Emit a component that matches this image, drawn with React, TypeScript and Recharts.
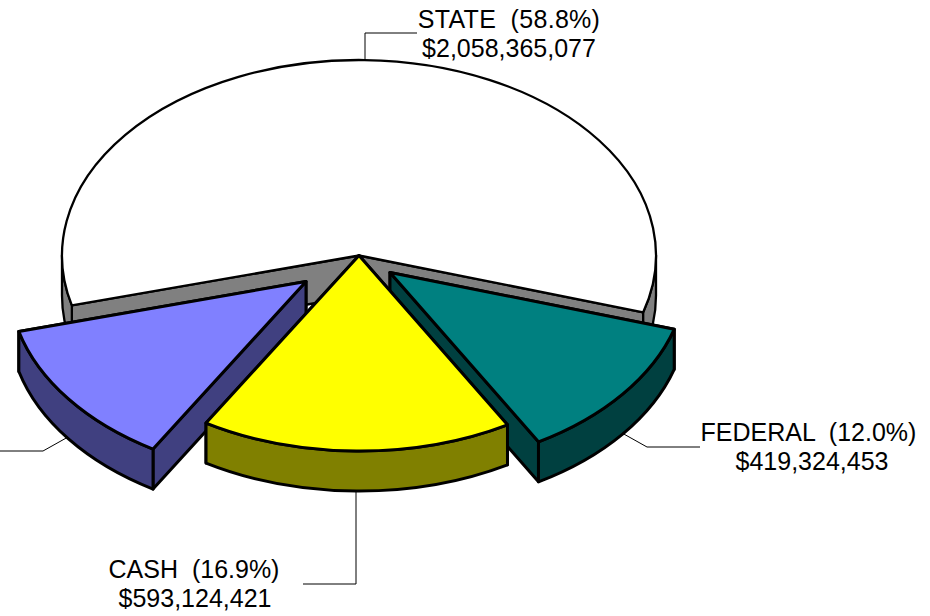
import { PieChart, Pie } from "recharts"

// funding sources (last label is cut off by the page edge)
const names = ["STATE", "FEDERAL", "CASH", "OTHER"]
const amounts = [2058365077, 419324453, 593124421, 429786049]
const shares = ["58.8%", "12.0%", "16.9%", "12.3%"]
const amountLabels = ["$2,058,365,077", "$419,324,453", "$593,124,421", "$429,786,049"]

const data = names.map((name, i) => ({
  name,
  value: amounts[i],
  share: shares[i],
  amountLabel: amountLabels[i],
}))

const CX = 359
const CY = 255.5
const RX = 297
const RY = 195.5
const DEPTH = 40

const topColors: Record<string, string> = { STATE: "#ffffff", FEDERAL: "#008080", CASH: "#ffff00", OTHER: "#8080ff" }
const sideColors: Record<string, string> = { STATE: "#808080", FEDERAL: "#004040", CASH: "#808000", OTHER: "#404080" }
const explode: Record<string, [number, number]> = { FEDERAL: [31, 17], OTHER: [-53, 26] }

// leader line and text placement per label, the OTHER text is off the page so it has none
const labelLayout: Record<string, { line: string; x?: number; y?: number; x2?: number; spacing?: number }> = {
  STATE: { line: "365,60 365,33 417,33", x: 509, y: 28, x2: 509, spacing: 0.3 },
  FEDERAL: { line: "622,433 647,447 700,447", x: 808.5, y: 441, x2: 812 },
  CASH: { line: "356,491 356,584 303,584", x: 194, y: 578, x2: 195 },
  OTHER: { line: "68,437 43,451 -10,451" },
}

const rad = (a: number) => (a * Math.PI) / 180

// tilted pie: recharts gives the angles, we squash them onto an ellipse
const pt = (ox: number, oy: number, a: number) => [ox + RX * Math.cos(rad(a)), oy - RY * Math.sin(rad(a))]

const arcTo = (ox: number, oy: number, from: number, to: number) => {
  const [x, y] = pt(ox, oy, to)
  const large = Math.abs(from - to) > 180 ? 1 : 0
  const sweep = from > to ? 1 : 0
  return `A${RX},${RY} 0 ${large} ${sweep} ${x},${y}`
}

function Slice({ name, startAngle, endAngle, cx, cy }: any) {
  const [dx, dy] = explode[name] ?? [0, 0]
  const ox = cx + dx
  const oy = cy + dy
  const [sx, sy] = pt(ox, oy, startAngle)
  const [ex, ey] = pt(ox, oy, endAngle)
  const side = sideColors[name]

  // outer wall only shows on the front half of the ellipse
  const rims: [number, number][] = []
  for (const [hi, lo] of [[360, 180], [0, -180]]) {
    const a = Math.min(startAngle, hi)
    const b = Math.max(endAngle, lo)
    if (a > b) rims.push([a, b])
  }

  // the cut wall further back goes first so the front one covers it
  const cuts = [
    [sx, sy],
    [ex, ey],
  ].sort((p, q) => p[1] - q[1])

  const common = { stroke: "#000", strokeWidth: name === "STATE" ? 2.3 : 3, strokeLinejoin: "round" as const }
  return (
    <g>
      {cuts.map(([x, y]) => (
        <path key={y} d={`M${ox},${oy} L${x},${y} L${x},${y + DEPTH} L${ox},${oy + DEPTH} Z`} fill={side} {...common} />
      ))}
      {rims.map(([a, b]) => {
        const [ax, ay] = pt(ox, oy, a)
        const [bx, by] = pt(ox, oy, b)
        return (
          <path
            key={a}
            d={`M${ax},${ay} ${arcTo(ox, oy, a, b)} L${bx},${by + DEPTH} ${arcTo(ox, oy + DEPTH, b, a)} Z`}
            fill={side}
            {...common}
          />
        )
      })}
      <path d={`M${ox},${oy} L${sx},${sy} ${arcTo(ox, oy, startAngle, endAngle)} Z`} fill={topColors[name]} {...common} />
    </g>
  )
}

// cash sits on top of its neighbours, so it goes in a second pie
const restShape = (props: any) => (props.name === "CASH" ? <g /> : <Slice {...props} />)
const cashShape = (props: any) => (props.name === "CASH" ? <Slice {...props} /> : <g />)

function renderLabel({ name, payload }: any) {
  const layout = labelLayout[name]
  const row = payload?.payload ?? payload
  return (
    <g>
      <polyline points={layout.line} fill="none" stroke="#000" strokeWidth={1} />
      {layout.x !== undefined && (
        <>
          <text
            x={layout.x}
            y={layout.y}
            textAnchor="middle"
            fontFamily="Liberation Sans"
            fontSize={25}
            fill="#000"
            letterSpacing={layout.spacing}
            style={{ whiteSpace: "pre" }}
          >
            {`${name}  (${row.share})`}
          </text>
          <text x={layout.x2} y={layout.y! + 28.5} textAnchor="middle" fontFamily="Liberation Sans" fontSize={25} fill="#000">
            {row.amountLabel}
          </text>
        </>
      )}
    </g>
  )
}

export default function App() {
  const pieProps = {
    data,
    dataKey: "value",
    nameKey: "name",
    cx: CX,
    cy: CY,
    outerRadius: RX,
    startAngle: 194.8,
    endAngle: -165.2,
    stroke: "none",
    isAnimationActive: false,
  }
  return (
    <div style={{ position: "absolute", left: 0, top: 0, width: 930, height: 616, background: "#fff", overflow: "hidden" }}>
      <PieChart width={930} height={616} margin={{ top: 0, right: 0, bottom: 0, left: 0 }}>
        <Pie {...pieProps} shape={restShape} label={renderLabel} labelLine={false} />
        <Pie {...pieProps} shape={cashShape} label={false} labelLine={false} />
      </PieChart>
    </div>
  )
}
